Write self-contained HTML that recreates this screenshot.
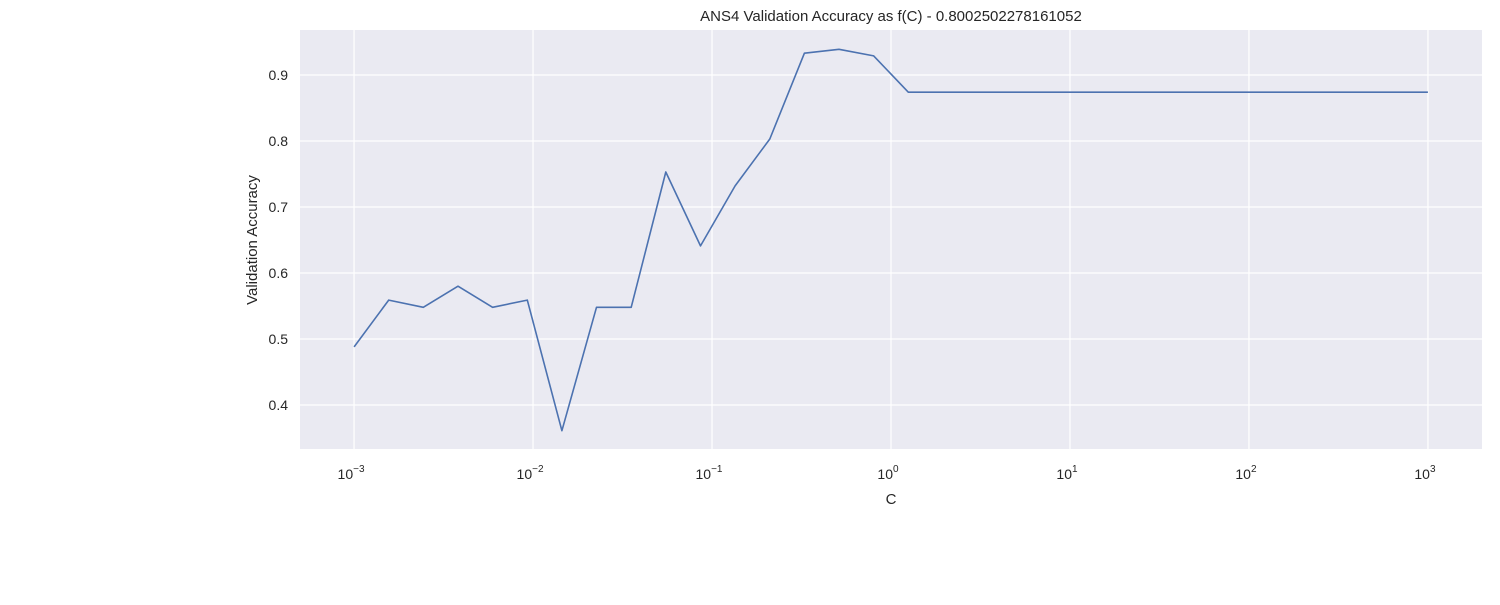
<!DOCTYPE html>
<html><head><meta charset="utf-8"><style>
body{margin:0;background:#fff;}
svg text{font-family:"Liberation Sans",sans-serif;fill:#262626;}
</style></head><body>
<svg id="chart" width="1500" height="600" xmlns="http://www.w3.org/2000/svg">
<rect x="300" y="30" width="1182" height="419" fill="#eaeaf2"/>
<g id="grid"></g>
<g id="ticks"></g>
<polyline id="line" fill="none" stroke="#4c72b0" stroke-width="1.6" stroke-linejoin="round"/>
<text x="891" y="21" text-anchor="middle" font-size="15">ANS4 Validation Accuracy as f(C) - 0.8002502278161052</text>
<text x="891" y="504" text-anchor="middle" font-size="15">C</text>
<text transform="translate(257,240) rotate(-90)" text-anchor="middle" font-size="15">Validation Accuracy</text>
</svg>
<script>
const accuracy = [0.488,0.559,0.548,0.580,0.548,0.559,0.361,0.548,0.548,0.753,0.641,0.732,0.803,0.933,0.939,0.929,0.874,0.874,0.874,0.874,0.874,0.874,0.874,0.874,0.874,0.874,0.874,0.874,0.874,0.874,0.874,0.874];
const logCMin = -3, logCMax = 3;
const yTicks = [0.4,0.5,0.6,0.7,0.8,0.9];
const xTickExps = [-3,-2,-1,0,1,2,3];
const X0=300,X1=1482,Y0=30,Y1=449;
const xl=-3.302,xh=3.302,yl=0.3333,yh=0.9682;
const sx=l=>X0+(l-xl)/(xh-xl)*(X1-X0);
const sy=v=>Y1-(v-yl)/(yh-yl)*(Y1-Y0);
const NS="http://www.w3.org/2000/svg";
const grid=document.getElementById('grid'), ticks=document.getElementById('ticks');
function mk(tag,attrs,parent){const e=document.createElementNS(NS,tag);for(const k in attrs)e.setAttribute(k,attrs[k]);parent.appendChild(e);return e;}
yTicks.forEach(v=>{
  const y=sy(v);
  const g=mk('line',{x1:X0,x2:X1,y1:y,y2:y,stroke:'#fff','stroke-width':1.2},grid);
  
  
  const t=mk('text',{x:X0-12,y:y+5,'text-anchor':'end','font-size':14},ticks);
  t.textContent=v.toFixed(1);
  
  
});
xTickExps.forEach(e=>{
  const x=sx(e);
  const g=mk('line',{x1:x,x2:x,y1:Y0,y2:Y1,stroke:'#fff','stroke-width':1.2},grid);
  
  
  const t=mk('text',{x:x-3,y:Y1+30,'text-anchor':'middle','font-size':14},ticks);
  
  
  const b=mk('tspan',{},t);b.textContent='10';
  const s=mk('tspan',{dy:-7,'font-size':10},t);s.textContent=(e<0?'\u2212':'')+Math.abs(e);
});
const n=accuracy.length;
const pts=accuracy.map((v,i)=>sx(logCMin+(logCMax-logCMin)*i/(n-1)).toFixed(1)+','+sy(v).toFixed(1));
document.getElementById('line').setAttribute('points',pts.join(' '));
</script>
</body></html>
